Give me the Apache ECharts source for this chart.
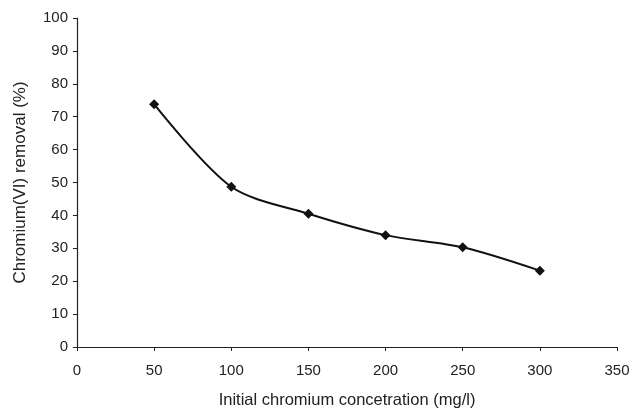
<!DOCTYPE html>
<html>
<head>
<meta charset="utf-8">
<script src="https://cdn.jsdelivr.net/npm/echarts@6/dist/echarts.min.js"></script>
<style>
  html, body { margin: 0; padding: 0; background: #fff; }
  #chart { width: 631px; height: 411px; }
</style>
</head>
<body>
<div id="chart"></div>
<script>
// 数据
var concentration = [50, 100, 150, 200, 250, 300];
var removal = [73.8, 48.7, 40.5, 34.0, 30.3, 23.2];

(function() {
    var myChart = echarts.init(document.getElementById('chart'));

    var points = concentration.map(function(x, i) { return [x, removal[i]]; });

    var font = 'Liberation Sans, Arial, sans-serif';
    var axisText = { color: '#222', fontSize: 15, fontFamily: font };

    var option = {
        animation: false,
        grid: { left: 77, right: 14, top: 18, bottom: 64, outerBoundsMode: 'none' },
        xAxis: {
            type: 'value',
            min: 0, max: 350, interval: 50,
            name: 'Initial chromium concetration (mg/l)',
            nameLocation: 'middle',
            nameGap: 45,
            nameTextStyle: { color: '#222', fontSize: 16.5, fontFamily: font },
            axisLine: { lineStyle: { color: '#222', width: 1.2 } },
            axisTick: { show: true, length: 4, lineStyle: { color: '#222' } },
            axisLabel: Object.assign({ margin: 16 }, axisText),
            splitLine: { show: false }
        },
        yAxis: {
            type: 'value',
            min: 0, max: 100, interval: 10,
            name: 'Chromium(VI) removal (%)',
            nameLocation: 'middle',
            nameGap: 48,
            nameTextStyle: { color: '#222', fontSize: 17, fontFamily: font },
            axisLine: { show: true, lineStyle: { color: '#222', width: 1.2 } },
            axisTick: { show: true, length: 4, lineStyle: { color: '#222' } },
            axisLabel: Object.assign({ margin: 9 }, axisText),
            splitLine: { show: false }
        },
        series: [{
            type: 'line',
            data: points,
            smooth: 0.3,
            symbol: 'diamond',
            symbolSize: 10,
            itemStyle: { color: '#111' },
            lineStyle: { color: '#111', width: 2 }
        }]
    };

    myChart.setOption(option);

    window.addEventListener('resize', function() {
        myChart.resize();
    });
})();
</script>
</body>
</html>
